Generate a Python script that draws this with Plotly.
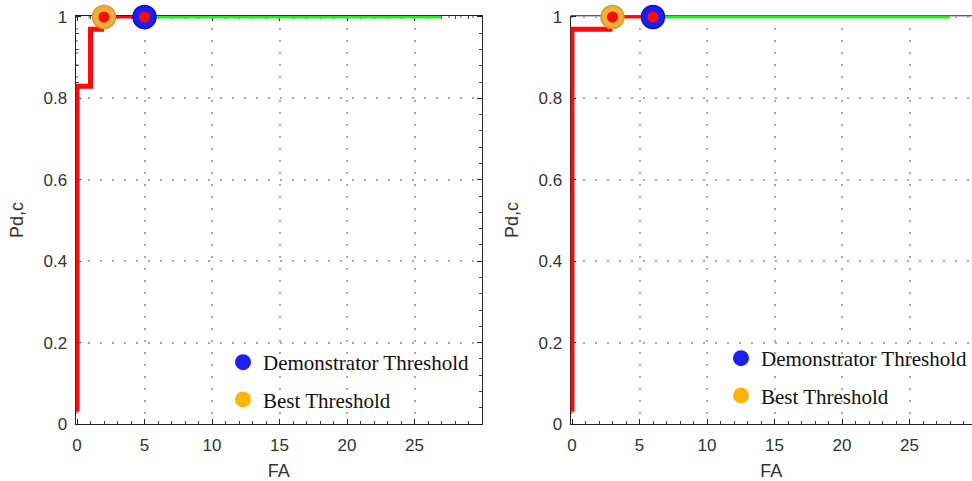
import plotly.graph_objects as go

# ---- data ----
# left panel
left_step_x = [0, 0, 1, 1, 2]
left_step_y = [0.03, 0.83, 0.83, 0.97, 0.97]
left_mid_x = [2, 5]
left_mid_y = [1, 1]
left_green_x = [5, 27]
left_green_y = [1, 1]
left_best = (2, 1)
left_demo = (5, 1)

# right panel
right_step_x = [0, 0, 3]
right_step_y = [0.03, 0.97, 0.97]
right_mid_x = [3, 6]
right_mid_y = [1, 1]
right_green_x = [6, 28]
right_green_y = [1, 1]
right_best = (3, 1)
right_demo = (6, 1)

x_ticks = [0, 5, 10, 15, 20, 25]
y_ticks = [0, 0.2, 0.4, 0.6, 0.8, 1]
y_ticklabels = ["0", "0.2", "0.4", "0.6", "0.8", "1"]

RED = "#FF0A0A"
GREEN = "#22EE22"
BLUE = "#1E1EF2"
ORANGE_PLOT = "#F2AE3A"
ORANGE_LEG = "#FFB40A"

fig = go.Figure()


def add_panel(xa, ya, legend, step_x, step_y, mid_x, mid_y, gx, gy, best, demo):
    fig.add_trace(go.Scatter(x=gx, y=gy, mode="lines", line=dict(color=GREEN, width=3),
                             xaxis=xa, yaxis=ya, showlegend=False, hoverinfo="skip"))
    fig.add_trace(go.Scatter(x=mid_x, y=mid_y, mode="lines", line=dict(color=RED, width=3),
                             xaxis=xa, yaxis=ya, showlegend=False, hoverinfo="skip"))
    fig.add_trace(go.Scatter(x=step_x, y=step_y, mode="lines", line=dict(color=RED, width=5),
                             xaxis=xa, yaxis=ya, showlegend=False, hoverinfo="skip"))
    # threshold markers
    fig.add_trace(go.Scatter(x=[best[0]], y=[best[1]], mode="markers",
                             marker=dict(size=23, color=ORANGE_PLOT, line=dict(color="#D9982E", width=1.5)),
                             xaxis=xa, yaxis=ya, showlegend=False, cliponaxis=False))
    fig.add_trace(go.Scatter(x=[demo[0]], y=[demo[1]], mode="markers",
                             marker=dict(size=23, color=BLUE, line=dict(color="#1010C0", width=1.5)),
                             xaxis=xa, yaxis=ya, showlegend=False, cliponaxis=False))
    fig.add_trace(go.Scatter(x=[best[0], demo[0]], y=[best[1], demo[1]], mode="markers",
                             marker=dict(size=11, color=RED),
                             xaxis=xa, yaxis=ya, showlegend=False, cliponaxis=False))
    # legend entries
    fig.add_trace(go.Scatter(x=[None], y=[None], mode="markers", name="Demonstrator Threshold",
                             marker=dict(size=20, color=BLUE), xaxis=xa, yaxis=ya,
                             legend=legend, legendgroup=legend + "a"))
    fig.add_trace(go.Scatter(x=[None], y=[None], mode="markers", name="Best Threshold",
                             marker=dict(size=20, color=ORANGE_LEG), xaxis=xa, yaxis=ya,
                             legend=legend, legendgroup=legend + "b"))


add_panel("x", "y", "legend", left_step_x, left_step_y, left_mid_x, left_mid_y,
          left_green_x, left_green_y, left_best, left_demo)
add_panel("x2", "y2", "legend2", right_step_x, right_step_y, right_mid_x, right_mid_y,
          right_green_x, right_green_y, right_best, right_demo)

W, H = 972, 481
PXU = 13.5        # pixels per FA unit
XPAD = 0.1        # small range padding so the x=0 line is not clipped
YPAD = 0.003      # small range padding so the y=1 line is not clipped
PXY = 407.0       # pixels per Pd unit
ydom = [57 / H, 1 - (17 - YPAD * PXY) / H]

tickfont = dict(family="Liberation Sans, Arial, sans-serif", size=17, color="#333333")
titlefont = dict(family="Liberation Sans, Arial, sans-serif", size=18, color="#333333")

common_x = dict(tickvals=x_ticks, showgrid=True, gridcolor="#a8a8a8", griddash="2px,10px", gridwidth=1.5,
                zeroline=False, showline=True, linecolor="#222222", linewidth=1,
                ticks="inside", ticklen=5, tickcolor="#222222", ticklabelstandoff=6,
                minor=dict(ticks="inside", dtick=1, ticklen=3, tickcolor="#444444", showgrid=False),
                tickfont=tickfont, layer="below traces", automargin=False,
                title=dict(text="FA", font=titlefont, standoff=12))
common_y = dict(tickvals=y_ticks, ticktext=y_ticklabels, range=[0, 1 + YPAD], domain=ydom,
                showgrid=True, gridcolor="#a8a8a8", griddash="2px,10px", gridwidth=1.5,
                zeroline=False, showline=True, linecolor="#222222", linewidth=1,
                ticks="inside", ticklen=5, tickcolor="#222222", ticklabelstandoff=4,
                minor=dict(ticks="inside", dtick=0.04, ticklen=3, tickcolor="#444444", showgrid=False),
                tickfont=tickfont, layer="below traces", automargin=False,
                title=dict(text="Pd,c", font=titlefont, standoff=15))

legfont = dict(family="Liberation Serif, Times New Roman, serif", size=21, color="#111111")

fig.update_layout(
    width=W, height=H,
    margin=dict(l=0, r=0, t=0, b=0),
    paper_bgcolor="white", plot_bgcolor="white",
    template="none",
    xaxis=dict(common_x, domain=[(77 - XPAD * PXU) / W, 482 / W], range=[-XPAD, 30], anchor="y",
               mirror="ticks"),
    yaxis=dict(common_y, anchor="x", mirror="ticks"),
    xaxis2=dict(common_x, domain=[(572 - XPAD * PXU) / W, 1.0], range=[-XPAD, 400 / PXU], anchor="y2",
                mirror=False),
    yaxis2=dict(common_y, anchor="x2", mirror=False),
    legend=dict(x=223 / W, y=1 - 342 / H, xanchor="left", yanchor="top", bgcolor="rgba(0,0,0,0)",
                font=legfont, tracegroupgap=7, traceorder="grouped", itemsizing="trace"),
    legend2=dict(x=721 / W, y=1 - 338 / H, xanchor="left", yanchor="top", bgcolor="rgba(0,0,0,0)",
                 font=legfont, tracegroupgap=7, traceorder="grouped", itemsizing="trace"),
    showlegend=True,
)

# top border of the right panel (axis frame, no right edge visible in the source)
fig.add_shape(type="line", xref="x2 domain", yref="y2 domain", x0=0, x1=1, y0=1, y1=1,
              line=dict(color="#222222", width=1), layer="below")

fig.write_html("out.html")
